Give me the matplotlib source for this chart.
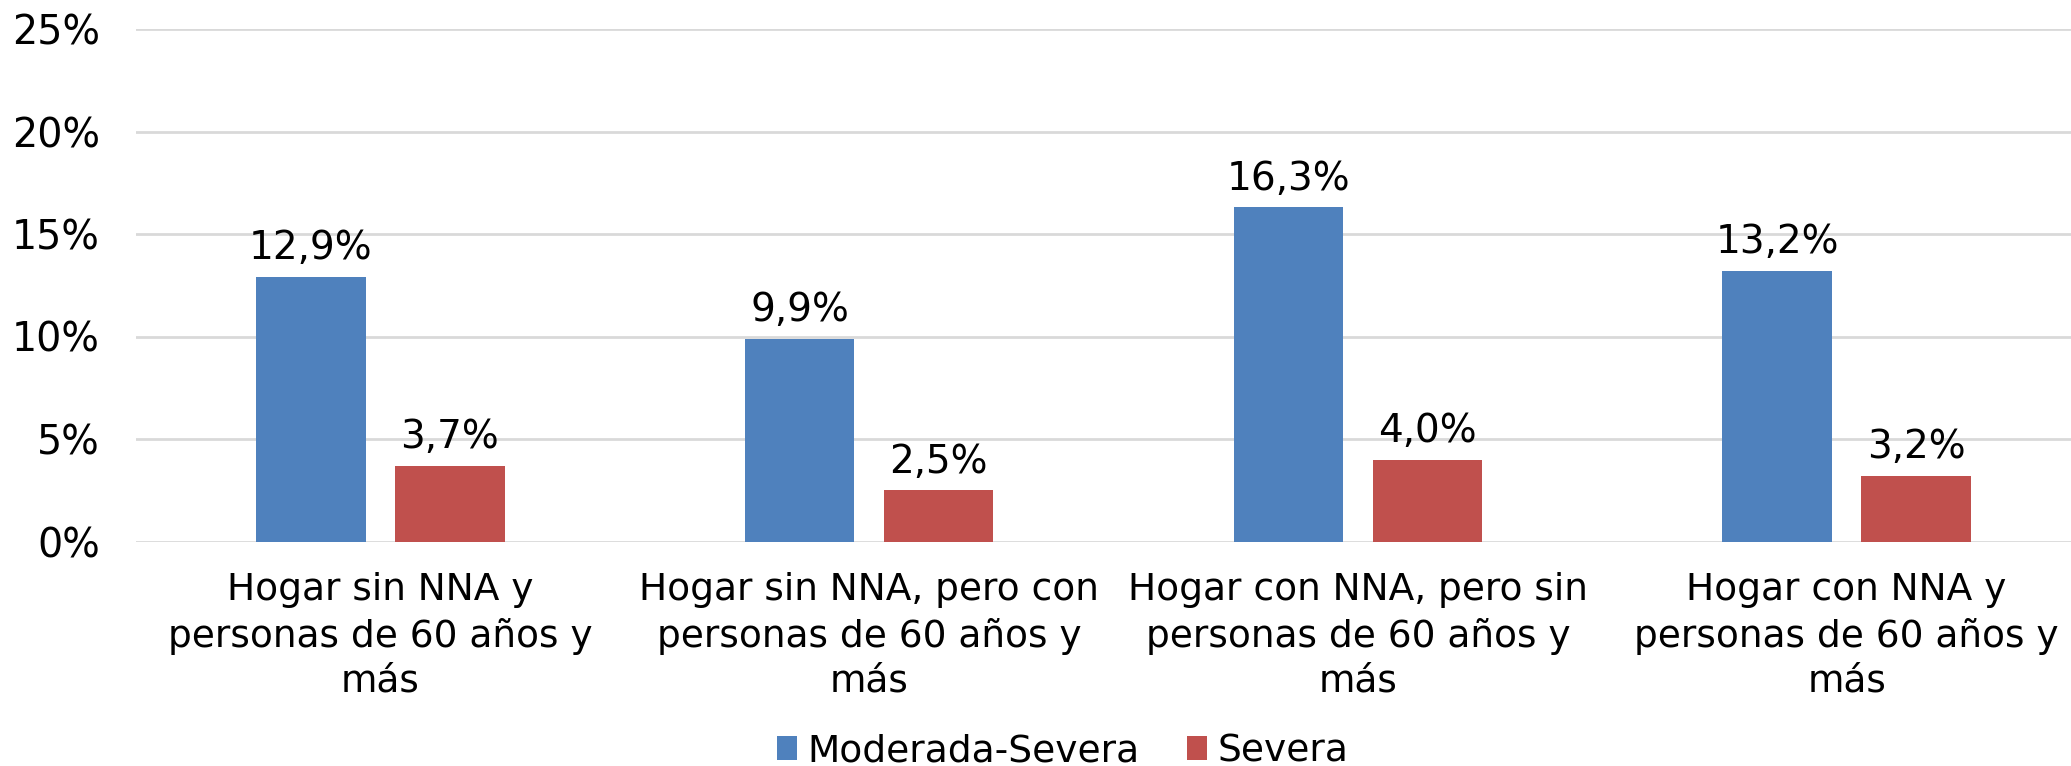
import matplotlib
matplotlib.use("Agg")
import matplotlib.pyplot as plt
import numpy as np
from matplotlib.ticker import FuncFormatter

categories = [
    "Hogar sin NNA y\npersonas de 60 años y\nmás",
    "Hogar sin NNA, pero con\npersonas de 60 años y\nmás",
    "Hogar con NNA, pero sin\npersonas de 60 años y\nmás",
    "Hogar con NNA y\npersonas de 60 años y\nmás",
]
series_names = ["Moderada-Severa", "Severa"]
moderada_severa = [12.9, 9.9, 16.3, 13.2]
severa = [3.7, 2.5, 4.0, 3.2]
yticks = [0, 5, 10, 15, 20, 25]

colors = ["#4F81BD", "#C0504D"]
plt.rcParams["font.family"] = ["DejaVu Sans"]
FS = 27

fig = plt.figure(figsize=(20.71, 7.66), dpi=100)
ax = fig.add_axes([136 / 2071, 224.5 / 766, 1955 / 2071, (541.5 - 29) / 766])

x = np.arange(len(categories))
w = 0.224
off = 0.142
for vals, name, c, d in [(moderada_severa, series_names[0], colors[0], -off),
                         (severa, series_names[1], colors[1], off)]:
    bars = ax.bar(x + d, vals, width=w, color=c, label=name, zorder=3)
    for b, v in zip(bars, vals):
        ax.annotate(f"{v:.1f}%".replace(".", ","),
                    (b.get_x() + b.get_width() / 2, v),
                    xytext=(0, 7), textcoords="offset points",
                    ha="center", va="bottom", fontsize=28)

ax.set_xlim(-0.5, 3.5)
ax.set_ylim(0, 25)
ax.set_yticks(yticks)
ax.yaxis.set_major_formatter(FuncFormatter(lambda v, p: f"{v:.0f}%"))
ax.set_xticks(x)
ax.set_xticklabels(categories, fontsize=FS, linespacing=1.33)
ax.tick_params(axis="y", length=0, pad=26, labelsize=28.5)
ax.tick_params(axis="x", length=0, pad=22)
ax.grid(axis="y", color="#D9D9D9", linewidth=2, zorder=0)
ax.set_axisbelow(True)
for s in ax.spines.values():
    s.set_visible(False)

fig.legend(loc="center", bbox_to_anchor=(0.513, 0.019), ncol=2, frameon=False,
           fontsize=FS, handlelength=0.55, handleheight=0.6,
           handletextpad=0.26, columnspacing=1.27, borderaxespad=0)

fig.savefig("out.png", dpi=100)
